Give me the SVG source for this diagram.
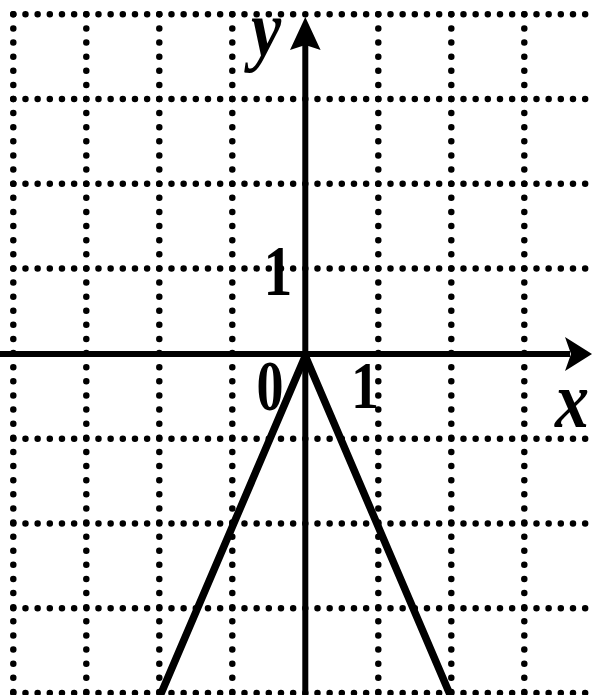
<svg xmlns="http://www.w3.org/2000/svg" width="592" height="695" viewBox="0 0 592 695">
<style>
.gh{stroke:#000;stroke-width:6.5;stroke-linecap:round;stroke-dasharray:0 12.167;fill:none}
.gv{stroke:#000;stroke-width:6.5;stroke-linecap:round;stroke-dasharray:0 14.117;fill:none}
.ax{stroke:#000;stroke-width:6;fill:none}
.lbl{font-family:"Liberation Serif","Times New Roman",serif;font-weight:bold;font-size:72px;fill:#000}
.it{font-style:italic;font-size:80px}
</style>
<rect width="592" height="695" fill="#fff"/>
<g id="grid">
<line class="gh" x1="13.3" y1="14.3" x2="596" y2="14.3"/>
<line class="gh" x1="13.3" y1="99" x2="596" y2="99"/>
<line class="gh" x1="13.3" y1="183.7" x2="596" y2="183.7"/>
<line class="gh" x1="13.3" y1="268.4" x2="596" y2="268.4"/>
<line class="gh" x1="13.3" y1="438.8" x2="596" y2="438.8"/>
<line class="gh" x1="13.3" y1="523.5" x2="596" y2="523.5"/>
<line class="gh" x1="13.3" y1="608.2" x2="596" y2="608.2"/>
<line class="gh" x1="13.3" y1="692.9" x2="596" y2="692.9"/>
<line class="gv" x1="13.3" y1="14.3" x2="13.3" y2="700"/>
<line class="gv" x1="86.3" y1="14.3" x2="86.3" y2="700"/>
<line class="gv" x1="159.3" y1="14.3" x2="159.3" y2="700"/>
<line class="gv" x1="232.3" y1="14.3" x2="232.3" y2="700"/>
<line class="gv" x1="378.3" y1="14.3" x2="378.3" y2="700"/>
<line class="gv" x1="451.3" y1="14.3" x2="451.3" y2="700"/>
<line class="gv" x1="524.3" y1="14.3" x2="524.3" y2="700"/>
</g>
<g id="axes">
<line class="ax" x1="0" y1="354" x2="570" y2="354"/>
<polygon points="592,354 565,337 571,354 565,371" fill="#000"/>
<line class="ax" x1="305.3" y1="695" x2="305.3" y2="45"/>
<polygon points="305.3,17 290,50 305.3,45 320.6,50" fill="#000"/>
</g>
<g id="graph">
<polyline points="160,696 305.3,356 450.6,696" fill="none" stroke="#000" stroke-width="7.5" stroke-linejoin="round"/>
</g>
<g id="labels">
<text class="lbl it" transform="translate(266,56) scale(0.85,1)" text-anchor="middle">y</text>
<text class="lbl it" transform="translate(572,427) scale(0.85,1)" text-anchor="middle">x</text>
<text class="lbl" transform="translate(278,295) scale(0.8,1)" text-anchor="middle">1</text>
<text class="lbl" transform="translate(270,410) scale(0.75,1)" text-anchor="middle">0</text>
<text class="lbl" transform="translate(365,408) scale(0.78,0.95)" text-anchor="middle">1</text>
</g>
</svg>
